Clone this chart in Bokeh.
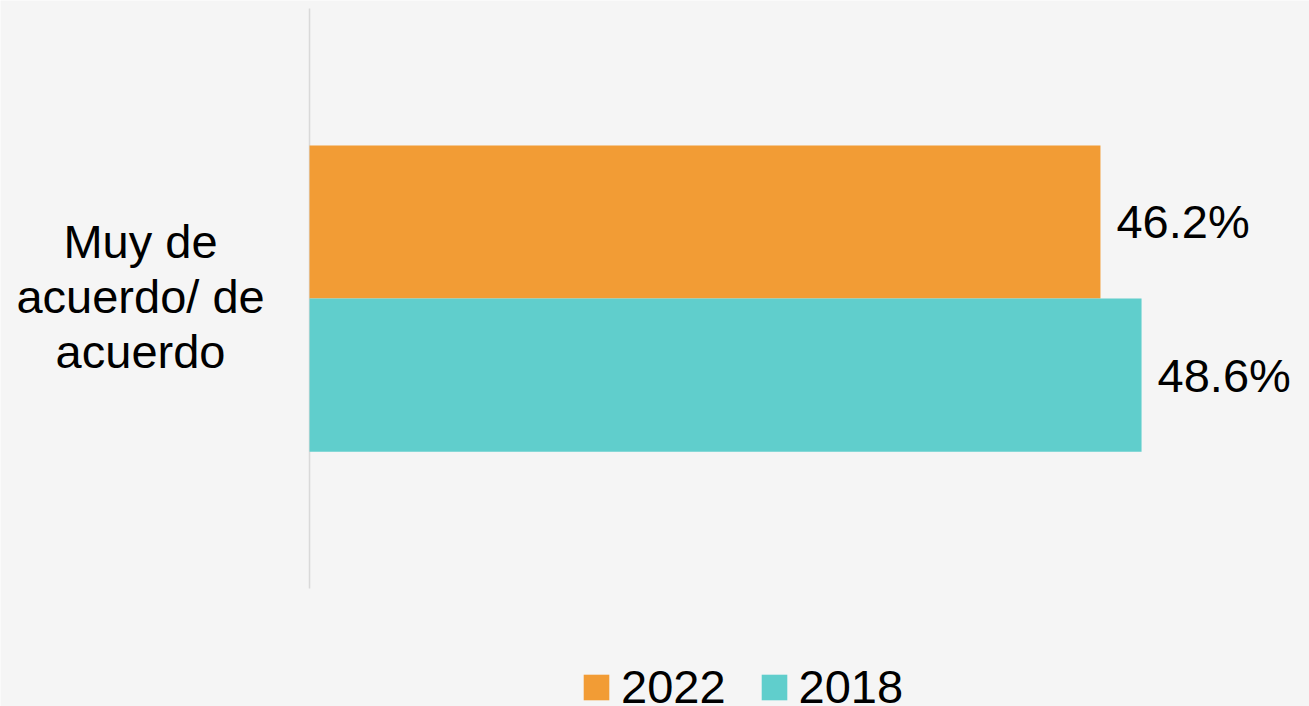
from bokeh.plotting import figure
from bokeh.models import ColumnDataSource, Range1d, LabelSet, Label, Legend, LegendItem
from bokeh.core.properties import value
from bokeh.embed import file_html
from bokeh.resources import INLINE

categories = ["Muy de\nacuerdo/ de\nacuerdo"]
series_names = ["2022", "2018"]
values_2022 = [46.2]
values_2018 = [48.6]
colors = ["#F29C35", "#60CECC"]

BG = "#F5F5F5"
FONT = "Liberation Sans"
W, H = 1309, 706

# frame covers the whole canvas so that no text is clipped
p = figure(
    x_range=Range1d(-18.05, 58.41),
    y_range=Range1d(-0.2034, 1.0138),
    width=W, height=H,
    min_border=0,
    output_backend="svg", toolbar_location=None,
    background_fill_color=BG, border_fill_color=BG,
)
p.outline_line_color = None
p.xgrid.visible = False
p.ygrid.visible = False
p.xaxis.visible = False
p.yaxis.visible = False

n = len(categories)
ypos = [i + 0.5 for i in range(n)]
bar_h = 0.264

# value axis baseline (left axis line)
p.segment(x0=[0], y0=[0], x1=[0], y1=[n], line_color="#D9D9D9", line_width=1.5)

src22 = ColumnDataSource(dict(y=[y + bar_h / 2 for y in ypos], val=values_2022,
                              txt=[f"{v:.1f}%" for v in values_2022]))
src18 = ColumnDataSource(dict(y=[y - bar_h / 2 for y in ypos], val=values_2018,
                              txt=[f"{v:.1f}%" for v in values_2018]))

r22 = p.hbar(y="y", right="val", left=0, height=bar_h, source=src22,
             fill_color=colors[0], line_color=None)
r18 = p.hbar(y="y", right="val", left=0, height=bar_h, source=src18,
             fill_color=colors[1], line_color=None)

for src in (src22, src18):
    p.add_layout(LabelSet(x="val", y="y", text="txt", source=src,
                          x_offset=16, text_baseline="middle", text_align="left",
                          text_font=value(FONT), text_font_size=value("47px"),
                          text_color="black"))

for cat, y in zip(categories, ypos):
    p.add_layout(Label(x=-9.87, y=y, y_offset=2, text=cat,
                       text_align="center", text_baseline="middle", text_font=FONT,
                       text_font_size="47px", text_line_height=1.03, text_color="black"))

legend = Legend(items=[LegendItem(label=series_names[0], renderers=[r22]),
                       LegendItem(label=series_names[1], renderers=[r18])],
                location=(580, -8), orientation="horizontal",
                padding=0, margin=0, spacing=32, label_standoff=9,
                glyph_width=32, glyph_height=32, label_height=26,
                label_text_font=FONT, label_text_font_size="47px",
                label_text_color="black",
                label_text_baseline="middle",
                border_line_color=None, background_fill_alpha=0)
p.add_layout(legend, "center")

open("out.html", "w").write(file_html(p, INLINE))
